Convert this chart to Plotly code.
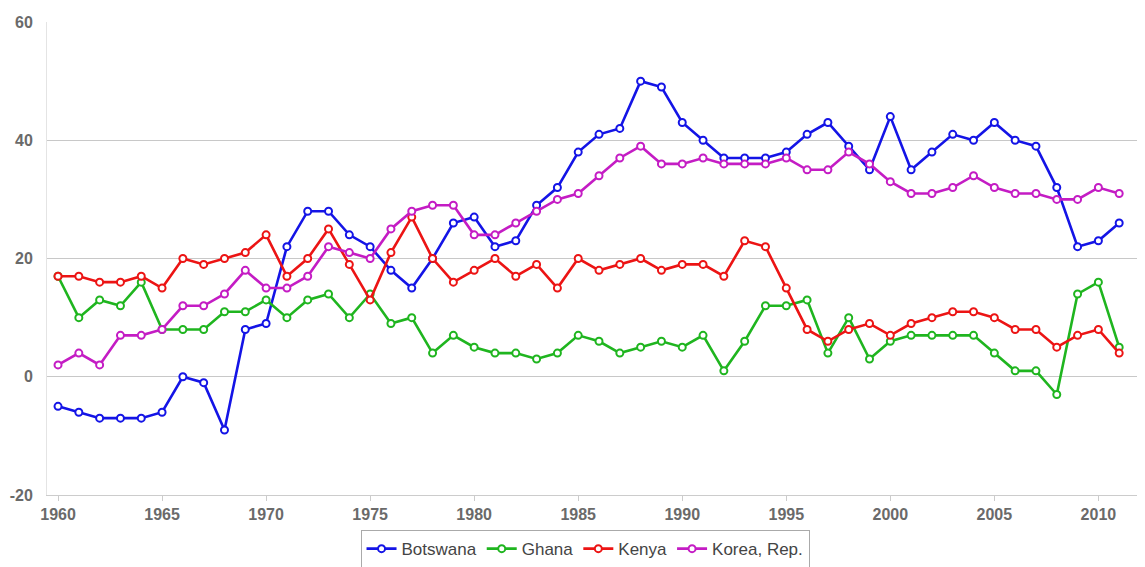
import plotly.graph_objects as go

years = list(range(1960, 2012))

botswana = [-5, -6, -7, -7, -7, -6, 0, -1, -9, 8, 9, 22, 28, 28, 24, 22, 18, 15, 20, 26,
            27, 22, 23, 29, 32, 38, 41, 42, 50, 49, 43, 40, 37, 37, 37, 38, 41, 43, 39, 35,
            44, 35, 38, 41, 40, 43, 40, 39, 32, 22, 23, 26]
ghana = [17, 10, 13, 12, 16, 8, 8, 8, 11, 11, 13, 10, 13, 14, 10, 14, 9, 10, 4, 7,
         5, 4, 4, 3, 4, 7, 6, 4, 5, 6, 5, 7, 1, 6, 12, 12, 13, 4, 10, 3,
         6, 7, 7, 7, 7, 4, 1, 1, -3, 14, 16, 5]
kenya = [17, 17, 16, 16, 17, 15, 20, 19, 20, 21, 24, 17, 20, 25, 19, 13, 21, 27, 20, 16,
         18, 20, 17, 19, 15, 20, 18, 19, 20, 18, 19, 19, 17, 23, 22, 15, 8, 6, 8, 9,
         7, 9, 10, 11, 11, 10, 8, 8, 5, 7, 8, 4]
korea = [2, 4, 2, 7, 7, 8, 12, 12, 14, 18, 15, 15, 17, 22, 21, 20, 25, 28, 29, 29,
         24, 24, 26, 28, 30, 31, 34, 37, 39, 36, 36, 37, 36, 36, 36, 37, 35, 35, 38, 36,
         33, 31, 31, 32, 34, 32, 31, 31, 30, 30, 32, 31]

series_names = ["Botswana", "Ghana", "Kenya", "Korea, Rep."]
series_values = [botswana, ghana, kenya, korea]
series_colors = ["#1414e6", "#1fb51f", "#ec1414", "#c41cc4"]

x_ticks = list(range(1960, 2011, 5))
y_ticks = [-20, 0, 20, 40, 60]
y_tick_labels = ["-20", "0", "20", "40", "60"]

FONT = "Liberation Sans, Arial, sans-serif"

fig = go.Figure()
for name, vals, col in zip(series_names, series_values, series_colors):
    fig.add_trace(go.Scatter(
        x=years, y=vals, name=name, mode="lines+markers",
        line=dict(color=col, width=2.6),
        marker=dict(symbol="circle", size=7, color="white",
                    line=dict(color=col, width=2)),
    ))

fig.update_layout(
    width=1137, height=559,
    margin=dict(l=39, r=5, t=14, b=72, autoexpand=False),
    paper_bgcolor="white", plot_bgcolor="white",
    font=dict(family=FONT, size=16, color="#666666"),
    showlegend=True,
    legend=dict(
        orientation="h", xref="container", yref="container",
        x=0.5075, xanchor="center", y=0.066, yanchor="top",
        bordercolor="#aaaaaa", borderwidth=1, bgcolor="white",
        font=dict(size=17, color="#444444", family=FONT),
        itemwidth=30, tracegroupgap=0,
    ),
    xaxis=dict(
        range=[1959.47, 2012.0], tickmode="array", tickvals=x_ticks,
        ticktext=[str(t) for t in x_ticks], automargin=False,
        showgrid=False, zeroline=False,
        showline=True, linecolor="#cccccc", linewidth=1,
        ticks="outside", ticklen=5, tickcolor="#cccccc",
        tickfont=dict(size=16, color="#6a6a6a", family=FONT, weight="bold"),
    ),
    yaxis=dict(
        range=[-20, 60], tickmode="array", tickvals=y_ticks, ticktext=y_tick_labels,
        automargin=False,
        showgrid=True, gridcolor="#c8c8c8", gridwidth=1,
        zeroline=False, showline=True, linecolor="#e4e4e4", linewidth=1,
        ticks="", ticklabelstandoff=10,
        tickfont=dict(size=16, color="#6a6a6a", family=FONT, weight="bold"),
    ),
)

fig.write_html("out.html")
